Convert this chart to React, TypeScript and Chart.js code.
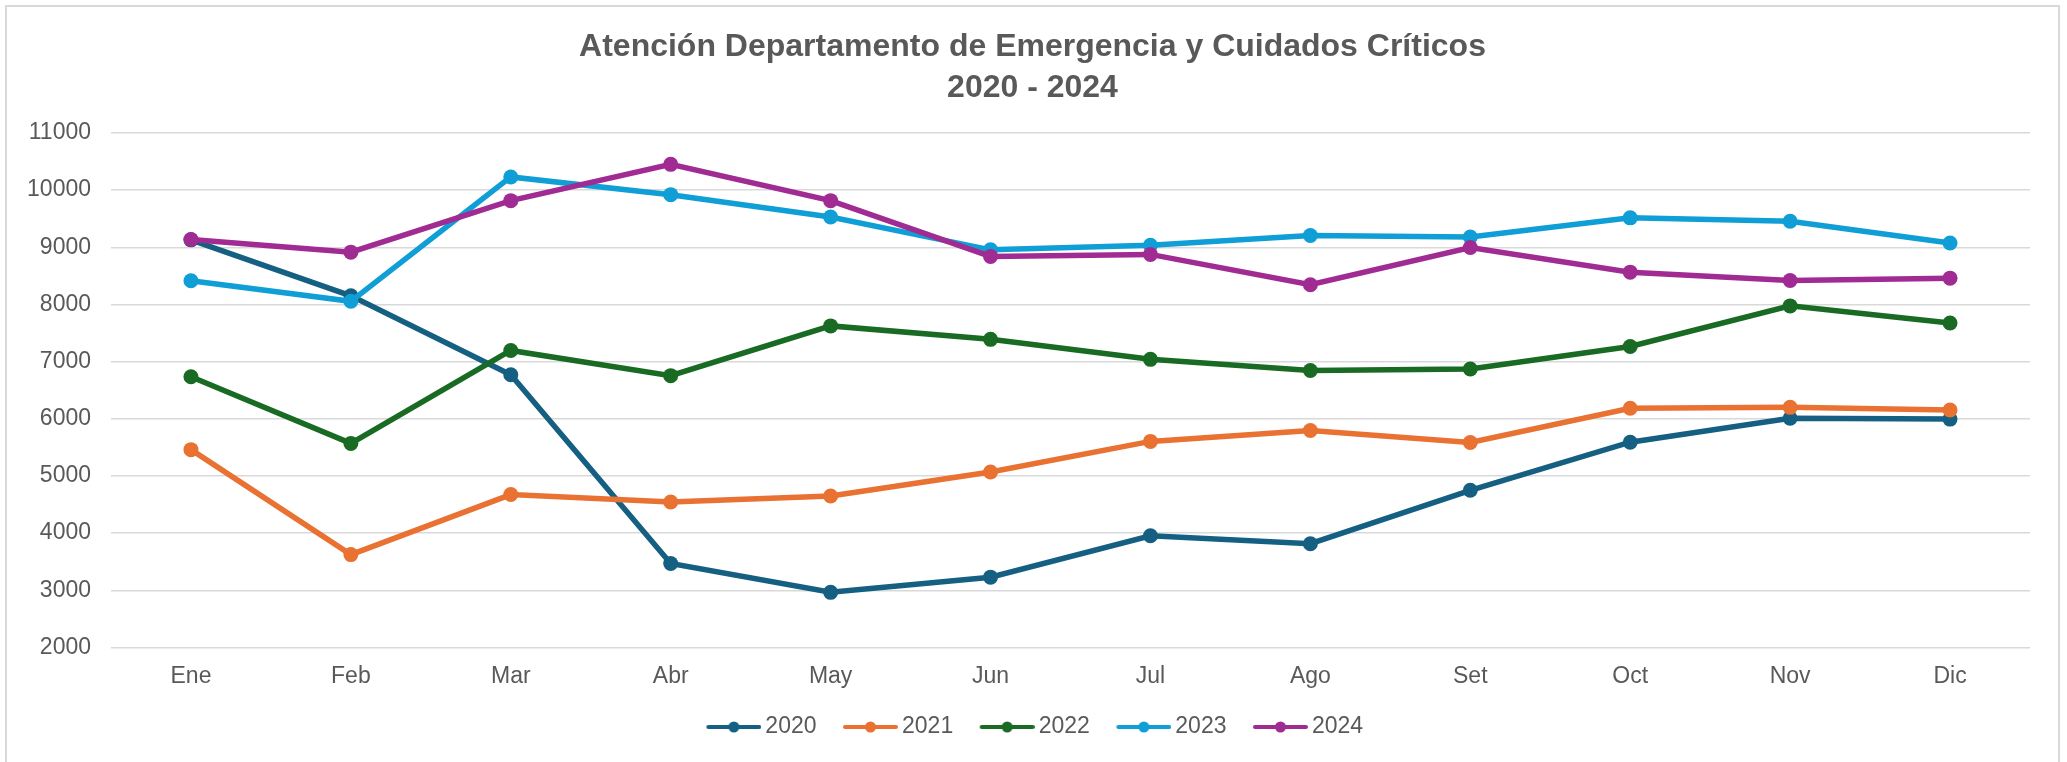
import React, { useEffect, useRef } from "react";
import { Chart, registerables } from "chart.js";

Chart.register(...registerables);

const months = ["Ene", "Feb", "Mar", "Abr", "May", "Jun", "Jul", "Ago", "Set", "Oct", "Nov", "Dic"];
const seriesLabels = ["2020", "2021", "2022", "2023", "2024"];
const values2020 = [9130, 8150, 6770, 3470, 2965, 3230, 3955, 3815, 4750, 5590, 6010, 5995];
const values2021 = [5460, 3625, 4675, 4545, 4650, 5070, 5605, 5795, 5585, 6185, 6200, 6155];
const values2022 = [6735, 5570, 7195, 6755, 7625, 7390, 7040, 6845, 6870, 7265, 7975, 7675];
const values2023 = [8415, 8055, 10230, 9920, 9530, 8955, 9035, 9205, 9180, 9515, 9455, 9075];
const values2024 = [9135, 8915, 9815, 10450, 9815, 8840, 8875, 8345, 8995, 8565, 8420, 8460];
const seriesColors = ["#156082", "#E97132", "#196B24", "#0F9ED5", "#A02B93"];
const titleLines = ["Atención Departamento de Emergencia y Cuidados Críticos", "2020 - 2024"];
const yMin = 2000;
const yMax = 11000;
const yStep = 1000;

const FONT = "'Liberation Sans', Arial, sans-serif";
const TEXT = "#595959";

function makeLegendImage(color: string): HTMLCanvasElement {
  const c = document.createElement("canvas");
  c.width = 65;
  c.height = 14;
  const ctx = c.getContext("2d")!;
  ctx.strokeStyle = color;
  ctx.lineWidth = 4;
  ctx.lineCap = "round";
  ctx.beginPath();
  ctx.moveTo(12, 7);
  ctx.lineTo(63, 7);
  ctx.stroke();
  ctx.fillStyle = color;
  ctx.beginPath();
  ctx.arc(37.5, 7, 5.5, 0, Math.PI * 2);
  ctx.fill();
  return c;
}

const shiftPlugin = {
  id: "shiftBlocks",
  afterLayout(chart: any) {
    if (chart.legend) {
      chart.legend.left += 7;
      chart.legend.right += 7;
    }
    if (chart.titleBlock) {
      chart.titleBlock.left += 6;
      chart.titleBlock.right += 6;
    }
  },
};

export default function App() {
  const canvasRef = useRef<HTMLCanvasElement | null>(null);

  useEffect(() => {
    if (!canvasRef.current) return;
    const allValues = [values2020, values2021, values2022, values2023, values2024];
    const legendImgs = seriesColors.map((c) => makeLegendImage(c));
    const datasets = seriesLabels.map((label, i) => ({
      label,
      data: allValues[i],
      borderColor: seriesColors[i],
      backgroundColor: seriesColors[i],
      pointBackgroundColor: seriesColors[i],
      pointBorderColor: seriesColors[i],
      pointBorderWidth: 0,
      pointRadius: 7.5,
      borderWidth: 5.5,
      tension: 0,
      fill: false,
      order: seriesLabels.length - 1 - i,
    }));

    const chart = new Chart(canvasRef.current, {
      type: "line",
      data: { labels: months, datasets },
      plugins: [shiftPlugin],
      options: {
        animation: false,
        responsive: false,
        devicePixelRatio: 1,
        layout: { padding: { left: 23, right: 37, top: 0, bottom: 13.5 } },
        plugins: {
          title: {
            display: true,
            text: titleLines,
            color: TEXT,
            font: { family: FONT, size: 32, weight: "bold", lineHeight: 1.28 },
            padding: { top: 27, bottom: 24 },
          },
          legend: {
            display: true,
            position: "bottom",
            labels: {
              usePointStyle: true,
              pointStyleWidth: 50,
              padding: 24,
              color: TEXT,
              font: { family: FONT, size: 23 },
              sort: (a: any, b: any) => a.datasetIndex - b.datasetIndex,
              generateLabels: (ch: any) =>
                ch.data.datasets.map((ds: any, i: number) => ({
                  text: ds.label,
                  fillStyle: ds.borderColor,
                  strokeStyle: ds.borderColor,
                  lineWidth: 0,
                  pointStyle: legendImgs[i],
                  hidden: false,
                  datasetIndex: i,
                  fontColor: TEXT,
                })),
            },
          },
          tooltip: { enabled: false },
        },
        scales: {
          x: {
            offset: true,
            afterFit: (scale: any) => {
              scale.height = 44;
            },
            grid: { display: false, drawTicks: false },
            border: { display: false },
            ticks: { color: TEXT, font: { family: FONT, size: 23 }, padding: 15, maxRotation: 0 },
          },
          y: {
            min: yMin,
            max: yMax,
            afterFit: (scale: any) => {
              scale.width = 88;
            },
            grid: { color: "#d9d9d9", lineWidth: 1.5, drawTicks: false },
            border: { display: false },
            ticks: {
              stepSize: yStep,
              color: TEXT,
              font: { family: FONT, size: 23 },
              padding: 20,
              callback: (v: any) => String(v),
            },
          },
        },
      },
    } as any);
    return () => chart.destroy();
  }, []);

  return (
    <div style={{ position: "absolute", left: 0, top: 0, width: 2067, height: 762, overflow: "hidden", background: "#fff" }}>
      <div
        style={{
          position: "absolute",
          left: 5,
          top: 5,
          width: 2051,
          height: 800,
          border: "2px solid #d9d9d9",
          boxSizing: "content-box",
        }}
      />
      <canvas
        ref={canvasRef}
        width={2067}
        height={762}
        style={{ position: "absolute", left: 0, top: 0, width: 2067, height: 762 }}
      />
    </div>
  );
}
